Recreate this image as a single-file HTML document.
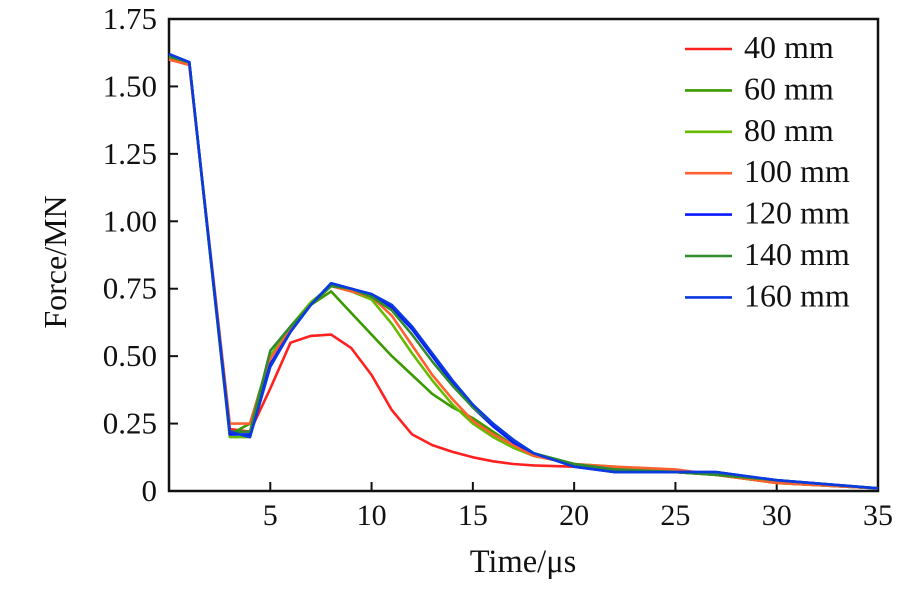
<!DOCTYPE html>
<html><head><meta charset="utf-8"><style>
html,body{margin:0;padding:0;background:#fff;}
svg text{font-family:"Liberation Serif",serif;fill:#111;}
</style></head><body>
<svg id="chart" width="921" height="586" viewBox="0 0 921 586">
<g id="axes"></g>
<g id="series"></g>
<g id="legend"></g>
<text x="0" y="0" font-size="32" text-anchor="middle" transform="translate(66 262) rotate(-90)">Force/MN</text>
<text x="523" y="572" font-size="32.5" text-anchor="middle">Time/μs</text>
</svg>
<script>
const xTicks=[5,10,15,20,25,30,35];
const yTicks=[0,0.25,0.5,0.75,1.0,1.25,1.5,1.75];
const yTickLabels=["0","0.25","0.50","0.75","1.00","1.25","1.50","1.75"];
const seriesNames=["40 mm","60 mm","80 mm","100 mm","120 mm","140 mm","160 mm"];
const seriesColors=["#ff2020","#3a9a00","#66bb00","#ff6030","#0a1aff","#2e8b2e","#0a3ae0"];
const times=[0,1,3,4,5,6,7,8,9,10,11,12,13,14,15,16,17,18,20,22,25,27,30,35];
const s40 =[1.60,1.58,0.23,0.22,0.38,0.55,0.575,0.58,0.53,0.43,0.30,0.21,0.17,0.145,0.125,0.11,0.10,0.095,0.09,0.08,0.07,0.06,0.03,0.01];
const s60 =[1.61,1.59,0.21,0.25,0.50,0.60,0.69,0.74,0.66,0.58,0.50,0.43,0.36,0.31,0.27,0.22,0.17,0.14,0.10,0.08,0.07,0.06,0.03,0.01];
const s80 =[1.61,1.59,0.20,0.20,0.50,0.61,0.70,0.76,0.74,0.71,0.62,0.51,0.41,0.32,0.25,0.20,0.16,0.13,0.10,0.09,0.07,0.06,0.03,0.01];
const s100=[1.60,1.58,0.25,0.25,0.49,0.60,0.69,0.76,0.74,0.72,0.65,0.54,0.43,0.34,0.26,0.21,0.17,0.13,0.10,0.09,0.08,0.06,0.03,0.01];
const s120=[1.62,1.59,0.21,0.21,0.47,0.59,0.69,0.77,0.75,0.73,0.68,0.60,0.50,0.40,0.31,0.24,0.18,0.14,0.09,0.07,0.07,0.07,0.04,0.01];
const s140=[1.61,1.59,0.22,0.22,0.52,0.61,0.69,0.76,0.75,0.72,0.67,0.58,0.48,0.39,0.31,0.25,0.19,0.14,0.10,0.08,0.07,0.06,0.04,0.01];
const s160=[1.62,1.59,0.22,0.20,0.46,0.59,0.69,0.77,0.75,0.73,0.69,0.61,0.51,0.41,0.32,0.25,0.19,0.14,0.09,0.07,0.07,0.07,0.04,0.01];
const allSeries=[s40,s60,s80,s100,s120,s140,s160];
const X0=169,X1=878,Y0=491,Y1=19;
function xs(v){return X0+(v/35)*(X1-X0);}
function ys(v){return Y0-(v/1.75)*(Y0-Y1);}
const NS="http://www.w3.org/2000/svg";
function mk(tag,attrs,parent){const e=document.createElementNS(NS,tag);for(const k in attrs)e.setAttribute(k,attrs[k]);parent.appendChild(e);return e;}
const axes=document.getElementById('axes');
const frame=mk('rect',{x:X0,y:Y1,width:X1-X0,height:Y0-Y1,fill:'none',stroke:'#111','stroke-width':2.5},axes);


xTicks.forEach(t=>{
 const l=mk('line',{x1:xs(t),x2:xs(t),y1:Y0,y2:Y0-9,stroke:'#111','stroke-width':2},axes);
 
 
 const tx=mk('text',{x:xs(t),y:525,'font-size':30,'text-anchor':'middle'},axes);
 tx.textContent=t;
 
 
});
yTicks.forEach((t,i)=>{
 const l=mk('line',{x1:X0,x2:X0+9,y1:ys(t),y2:ys(t),stroke:'#111','stroke-width':2},axes);
 
 
 const tx=mk('text',{x:157,y:ys(t)+10,'font-size':31,'text-anchor':'end'},axes);
 tx.textContent=yTickLabels[i];
 
 
});
const sg=document.getElementById('series');
allSeries.forEach((s,i)=>{
 const pts=s.map((v,j)=>xs(times[j]).toFixed(1)+','+ys(v).toFixed(1)).join(' ');
 const p=mk('polyline',{points:pts,fill:'none',stroke:seriesColors[i],'stroke-width':2.6,'stroke-linejoin':'round'},sg);
 
 
});
const lg=document.getElementById('legend');
seriesNames.forEach((n,i)=>{
 const y=49+i*41.4;
 const l=mk('line',{x1:685,x2:732,y1:y,y2:y,stroke:seriesColors[i],'stroke-width':2.6},lg);
 
 
 const t=mk('text',{x:744,y:y+9,'font-size':32},lg);
 t.textContent=n;
 
 
});
</script>
</body></html>
